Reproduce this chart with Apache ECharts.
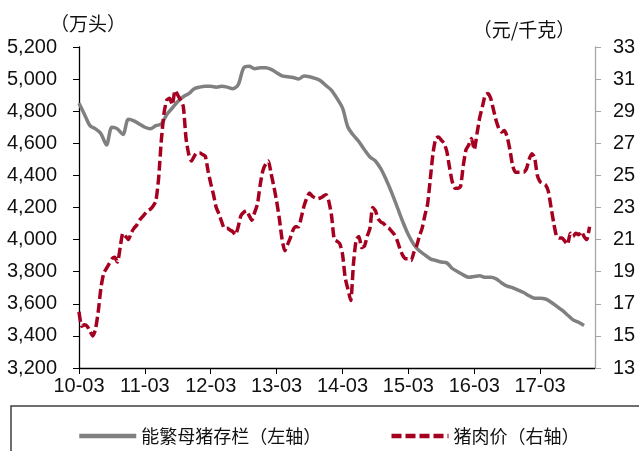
<!DOCTYPE html>
<html>
<head>
<meta charset="utf-8">
<script src="https://cdn.jsdelivr.net/npm/echarts@6/dist/echarts.min.js"></script>
<style>
  html, body { margin: 0; padding: 0; background: #fff; }
  #chart { width: 639px; height: 451px; }
</style>
</head>
<body>
<div id="chart"></div>
<script>
// months counted from 2010-03
const tickMonths = [0, 12, 24, 36, 48, 60, 72, 84];
const tickLabels = ['10-03', '11-03', '12-03', '13-03', '14-03', '15-03', '16-03', '17-03'];
const rightTicks = [13, 15, 17, 19, 21, 23, 25, 27, 29, 31, 33];

// sow inventory, monthly, 10,000 head (left axis)
const sowValues = [
  4850, 4780, 4710, 4690, 4660, 4590, 4700, 4690, 4655, 4750, 4740, 4720,
  4700, 4690, 4710, 4720, 4780, 4820, 4860, 4890, 4910, 4940, 4950, 4955,
  4955, 4950, 4955, 4950, 4940, 4965, 5070, 5080, 5065, 5070, 5070, 5060,
  5040, 5020, 5015, 5010, 5000, 5020, 5015, 5005, 4990, 4960, 4930, 4880,
  4820, 4700, 4650, 4610, 4560, 4515, 4490, 4440, 4370, 4290, 4200, 4110,
  4030, 3970, 3930, 3905, 3880, 3870, 3860, 3855, 3820, 3800, 3780, 3765,
  3770, 3775, 3765, 3765, 3755, 3730, 3710, 3700, 3685, 3670, 3650, 3635,
  3635, 3630, 3610, 3585, 3560, 3530, 3500, 3485, 3465
];

// pork price, half-monthly, yuan/kg (right axis)
const priceValues = [
  16.5, 15.6, 15.7, 15.6, 15.3, 15.0, 15.4, 16.5, 18.0, 18.9, 19.2, 19.5,
  19.8, 19.9, 19.6, 20.5, 21.4, 21.2, 21.0, 21.4, 21.7, 21.9, 22.2, 22.4,
  22.6, 22.8, 22.9, 23.1, 23.4, 24.8, 27.2, 28.9, 29.7, 29.8, 29.4, 30.3,
  30.0, 29.7, 29.3, 27.3, 26.3, 25.9, 26.2, 26.4, 26.4, 26.3, 26.2, 25.3,
  24.5, 23.8, 23.0, 22.6, 22.1, 21.7, 21.7, 21.6, 21.5, 21.3, 21.8, 22.5,
  22.7, 22.8, 22.5, 22.2, 22.7, 23.2, 24.4, 25.3, 25.7, 25.9, 25.1, 24.3,
  23.4, 22.3, 21.0, 20.3, 20.7, 21.1, 21.6, 21.8, 21.8, 22.4, 23.1, 23.6,
  23.9, 23.7, 23.6, 23.55, 23.6, 23.7, 23.8, 23.4, 22.5, 21.0, 20.9, 20.75,
  20.1, 18.6, 17.9, 17.2, 19.5, 21.0, 21.2, 20.5, 20.6, 21.2, 21.7, 23.0,
  22.8, 22.3, 22.1, 22.0, 21.8, 21.7, 21.5, 21.3, 20.9, 20.4, 20.0, 19.8,
  19.8, 19.7, 20.2, 20.6, 21.2, 21.7, 22.5, 23.2, 24.8, 26.4, 27.3, 27.4,
  27.2, 27.0, 26.5, 25.5, 24.6, 24.2, 24.2, 24.3, 25.6, 26.6, 26.9, 27.3,
  26.6, 27.6, 28.6, 29.3, 30.0, 30.1, 29.8, 29.1, 28.4, 27.9, 27.7, 27.8,
  27.4, 26.6, 25.6, 25.2, 25.2, 25.2, 25.2, 25.4, 26.0, 26.35, 26.1, 25.0,
  24.6, 24.5, 24.4, 24.0, 23.0, 22.0, 21.2, 21.1, 21.1, 20.9, 20.7, 21.4,
  21.2, 21.4, 21.3, 21.5, 21.2, 21.0, 21.8
];

const chart = echarts.init(document.getElementById('chart'));

const labelFont = {
  fontFamily: '"Liberation Sans Narrow", "Arial Narrow", "Liberation Sans", Arial, sans-serif',
  fontSize: 20,
  color: '#111'
};
const cjkFont = '"Noto Sans CJK SC", "Noto Sans", sans-serif';

const option = {
  animation: false,
  backgroundColor: '#fff',
  grid: { left: 79, right: 44, top: 47, bottom: 83 },
  xAxis: {
    type: 'value',
    min: 0,
    max: 94,
    splitLine: { show: false },
    axisLine: { lineStyle: { color: '#000', width: 1.3 } },
    axisTick: { length: 6, lineStyle: { color: '#000' }, customValues: tickMonths },
    axisLabel: Object.assign({
      margin: 8,
      customValues: tickMonths,
      formatter: v => tickLabels[tickMonths.indexOf(v)] || ''
    }, labelFont)
  },
  yAxis: [
    {
      type: 'value',
      min: 3200,
      max: 5200,
      interval: 200,
      splitLine: { show: false },
      axisLine: { show: true, lineStyle: { color: '#000', width: 1.3 } },
      axisTick: { show: true, length: 6, lineStyle: { color: '#000' } },
      axisLabel: Object.assign({
        margin: 22,
        formatter: v => v.toLocaleString('en-US')
      }, labelFont)
    },
    {
      type: 'value',
      position: 'right',
      min: 13,
      max: 33,
      splitLine: { show: false },
      axisLine: { show: true, lineStyle: { color: '#a6a6a6', width: 1.3 } },
      axisTick: { show: true, length: 6, lineStyle: { color: '#a6a6a6' }, customValues: rightTicks },
      axisLabel: Object.assign({ margin: 18, customValues: rightTicks }, labelFont)
    }
  ],
  legend: {
    left: 72,
    top: 421,
    itemWidth: 57,
    itemHeight: 14,
    itemGap: 68,
    itemStyle: { opacity: 0 },
    lineStyle: { width: 4.5 },
    textStyle: { fontFamily: cjkFont, fontSize: 18, color: '#111', lineHeight: 20 },
    data: ['能繁母猪存栏（左轴）', '猪肉价（右轴）']
  },
  graphic: [
    {
      type: 'rect',
      shape: { x: 11, y: 406, width: 700, height: 100 },
      style: { fill: null, stroke: '#404040', lineWidth: 1.5 },
      silent: true
    },
    {
      type: 'text',
      x: 88, y: 24,
      style: { text: '（万头）', fontFamily: cjkFont, fontSize: 19, fill: '#111', align: 'center', verticalAlign: 'middle' }
    },
    {
      type: 'text',
      x: 524, y: 30,
      style: { text: '（元/千克）', fontFamily: cjkFont, fontSize: 19, fill: '#111', align: 'center', verticalAlign: 'middle' }
    }
  ],
  series: [
    {
      name: '能繁母猪存栏（左轴）',
      type: 'line',
      yAxisIndex: 0,
      symbol: 'none',
      smooth: 0.3,
      lineStyle: { color: '#808080', width: 3.5 },
      itemStyle: { color: '#808080' },
      data: sowValues.map((v, i) => [i, v])
    },
    {
      name: '猪肉价（右轴）',
      type: 'line',
      yAxisIndex: 1,
      symbol: 'none',
      smooth: 0.2,
      lineStyle: { color: '#a5001f', width: 3.5, type: [10, 4] },
      itemStyle: { color: '#a5001f' },
      data: priceValues.map((v, i) => [i * 0.5, v])
    }
  ]
};

chart.setOption(option);
</script>
</body>
</html>
